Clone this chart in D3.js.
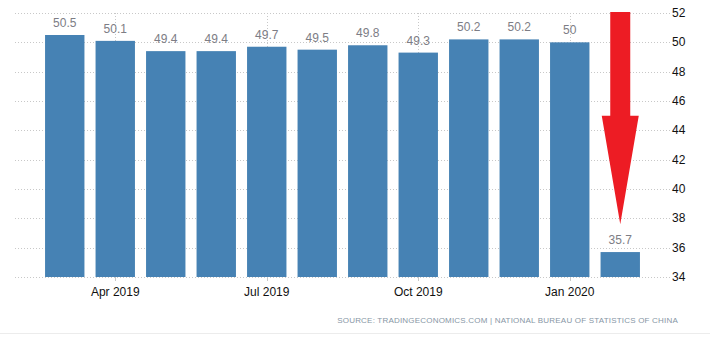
<!DOCTYPE html>
<html><head><meta charset="utf-8">
<script src="https://cdn.jsdelivr.net/npm/d3@7"></script>
<style>
html,body{margin:0;padding:0;background:#fff;}
svg{display:block;}
</style></head>
<body>
<svg id="chart" width="710" height="349"></svg>
<script>
const months = ["2019-03","2019-04","2019-05","2019-06","2019-07","2019-08","2019-09","2019-10","2019-11","2019-12","2020-01","2020-02"];
const values = [50.5,50.1,49.4,49.4,49.7,49.5,49.8,49.3,50.2,50.2,50,35.7];
const valueLabels = ["50.5","50.1","49.4","49.4","49.7","49.5","49.8","49.3","50.2","50.2","50","35.7"];
const xTickMonths = ["2019-04","2019-07","2019-10","2020-01"];
const xTickLabels = ["Apr 2019","Jul 2019","Oct 2019","Jan 2020"];
const yTicks = [34,36,38,40,42,44,46,48,50,52];
const arrowFrom = 52.07, arrowNeck = 45, arrowTip = 37.6;
const sourceText = "SOURCE: TRADINGECONOMICS.COM | NATIONAL BUREAU OF STATISTICS OF CHINA";

const svg = d3.select("#chart");
const x = d3.scaleBand().domain(months).range([39.5,645.5]).paddingInner(0.22).paddingOuter(0.11);
const y = d3.scaleLinear().domain([34,52]).range([277,13]);
const gridL = 15, gridR = 670;

svg.append("g").selectAll("line").data(yTicks).join("line")
  .attr("x1",gridL).attr("x2",gridR)
  .attr("y1",d=>Math.round(y(d))+0.5).attr("y2",d=>Math.round(y(d))+0.5)
  .attr("stroke","#c8c8c8").attr("stroke-width",1).attr("stroke-dasharray","1,2");

const cx = m => Math.round(x(m)+x.bandwidth()/2)+0.5;
svg.append("g").selectAll("line").data(xTickMonths).join("line")
  .attr("x1",cx).attr("x2",cx).attr("y1",y(52)).attr("y2",y(34))
  .attr("stroke","#c8c8c8").attr("stroke-width",1).attr("stroke-dasharray","1,2");

svg.append("g").selectAll("rect").data(months).join("rect")
  .attr("x",d=>x(d)).attr("width",x.bandwidth())
  .attr("y",(d,i)=>y(values[i])).attr("height",(d,i)=>y(34)-y(values[i]))
  .attr("fill","#4682b4");

svg.append("g").selectAll("text").data(months).join("text")
  .attr("x",d=>x(d)+x.bandwidth()/2).attr("y",(d,i)=>y(values[i])-8)
  .attr("text-anchor","middle").attr("font-family","Liberation Sans, Arial, sans-serif")
  .attr("font-size",12).attr("fill","#7d7d85").text((d,i)=>valueLabels[i]);

svg.append("g").selectAll("line").data(xTickMonths).join("line")
  .attr("x1",cx).attr("x2",cx).attr("y1",y(34)).attr("y2",y(34)+4)
  .attr("stroke","#c8c8c8");
svg.append("g").selectAll("text").data(xTickMonths).join("text")
  .attr("x",d=>x(d)+x.bandwidth()/2).attr("y",296)
  .attr("text-anchor","middle").attr("font-family","Liberation Sans, Arial, sans-serif")
  .attr("font-size",12).attr("fill","#111").text((d,i)=>xTickLabels[i]);

svg.append("g").selectAll("text").data(yTicks).join("text")
  .attr("x",672).attr("y",d=>y(d)+4)
  .attr("font-family","Liberation Sans, Arial, sans-serif")
  .attr("font-size",12).attr("fill","#111").text(d=>d);

const ac = x(months[11])+x.bandwidth()/2;
const shaftW = 20, headW = 37;
const p = d3.path();
p.moveTo(ac-shaftW/2, y(arrowFrom));
p.lineTo(ac+shaftW/2, y(arrowFrom));
p.lineTo(ac+shaftW/2, y(arrowNeck));
p.lineTo(ac+headW/2, y(arrowNeck));
p.lineTo(ac, y(arrowTip));
p.lineTo(ac-headW/2, y(arrowNeck));
p.lineTo(ac-shaftW/2, y(arrowNeck));
p.closePath();
svg.append("path").attr("d",p.toString()).attr("fill","#ed1c24");

svg.append("text").attr("x",678).attr("y",323).attr("text-anchor","end")
  .attr("font-family","Liberation Sans, Arial, sans-serif").attr("font-size",8)
  .attr("letter-spacing","0.2").attr("fill","#8796a5").text(sourceText);

svg.append("line").attr("x1",0).attr("x2",710).attr("y1",333.5).attr("y2",333.5)
  .attr("stroke","#ececec");
</script>
</body></html>
